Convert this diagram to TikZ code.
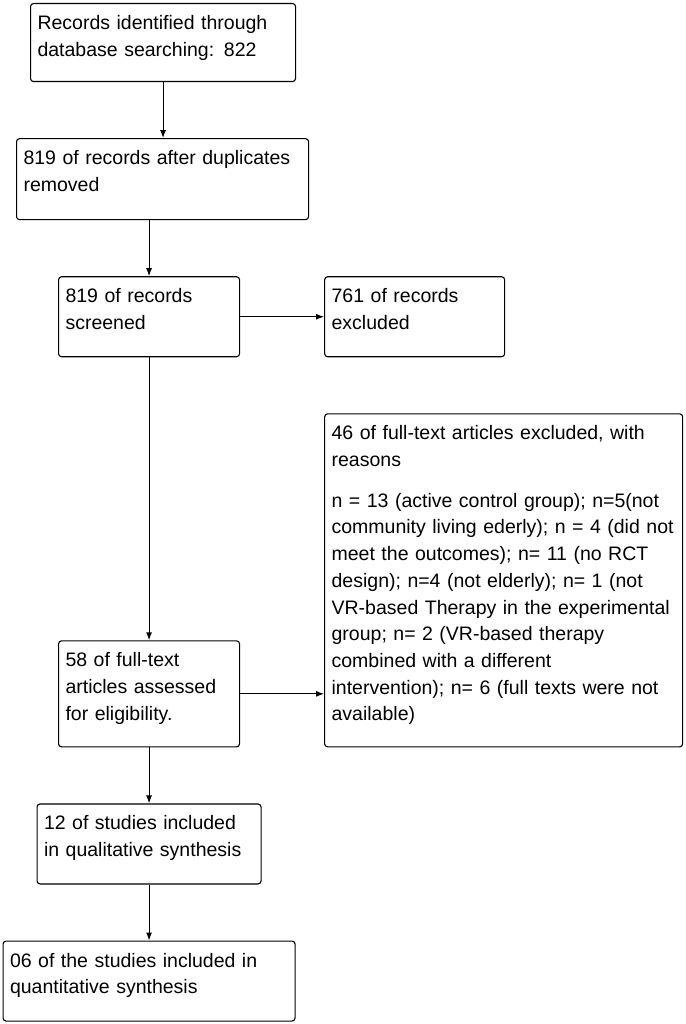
\documentclass[tikz,border=0pt]{standalone}
\usepackage{fontspec}
\setmainfont{Liberation Sans}
\usetikzlibrary{positioning,arrows.meta}

\tikzset{
	box/.style={draw, line width=1.1pt, rounded corners=3pt, anchor=north west,
		align=left, inner xsep=7pt, inner ysep=0pt, text height=26pt,
		font=\fontsize{19.5}{26.7}\selectfont},
	arr/.style={line width=1.1pt, -{Latex[length=8pt,width=6pt]}}
}

\begin{document}
\begin{tikzpicture}[x=1pt, y=1pt, node distance = 56pt]
			\useasboundingbox (0,0) rectangle (685,-1024);
			
			\node[box, text width=251pt, text depth=52pt] (rec) at (30,-3)
				{Records identified through\\database searching: 822};
			
			\node[box, below=of rec.south west, anchor=north west, xshift=-14pt,
				text width=278pt, text depth=55pt] (dup)
				{819 of records after duplicates\\removed};
			
			\node[box, below=of dup.south west, anchor=north west, xshift=42pt,
				text width=167pt, text depth=54pt] (scr)
				{819 of records\\screened};
			\node[box, right=84pt of scr, anchor=west,
				text width=166pt, text depth=54pt] (exc)
				{761 of records\\excluded};
			
			\node[box, below=of exc.south west, anchor=north west,
				text width=344pt, text depth=307pt] (ftx)
				{46 of full-text articles excluded, with\\reasons\\[14pt]
				n = 13 (active control group); n=5(not\\
				community living ederly); n = 4 (did not\\
				meet the outcomes); n= 11 (no RCT\\
				design); n=4 (not elderly); n= 1 (not\\
				VR-based Therapy in the experimental\\
				group; n= 2 (VR-based therapy\\
				combined with a different\\
				intervention); n= 6 (full texts were not\\
				available)};
			
			\node[box, anchor=south west, text width=167pt, text depth=80pt] (elg)
				at (scr.south west |- ftx.south)
				{58 of full-text\\articles assessed\\for eligibility.};
			
			\node[box, below=of elg, anchor=north,
				text width=210pt, text depth=54pt] (qual)
				{12 of studies included\\in qualitative synthesis};
			
			\node[box, below=of qual, anchor=north,
				text width=278pt, text depth=54pt] (quan)
				{06 of the studies included in\\quantitative synthesis};
			
			
			\draw[arr] (rec.south) -- (rec.south |- dup.north);
			\draw[arr] (scr.north |- dup.south) -- (scr.north);
			\draw[arr] (scr.east) -- (exc.west);
			\draw[arr] (scr.south) -- (elg.north);
			\draw[arr] (elg.east) -- (elg.east -| ftx.west);
			\draw[arr] (elg.south) -- (qual.north);
			\draw[arr] (qual.south) -- (quan.north);
			
			\end{tikzpicture}
\end{document}
